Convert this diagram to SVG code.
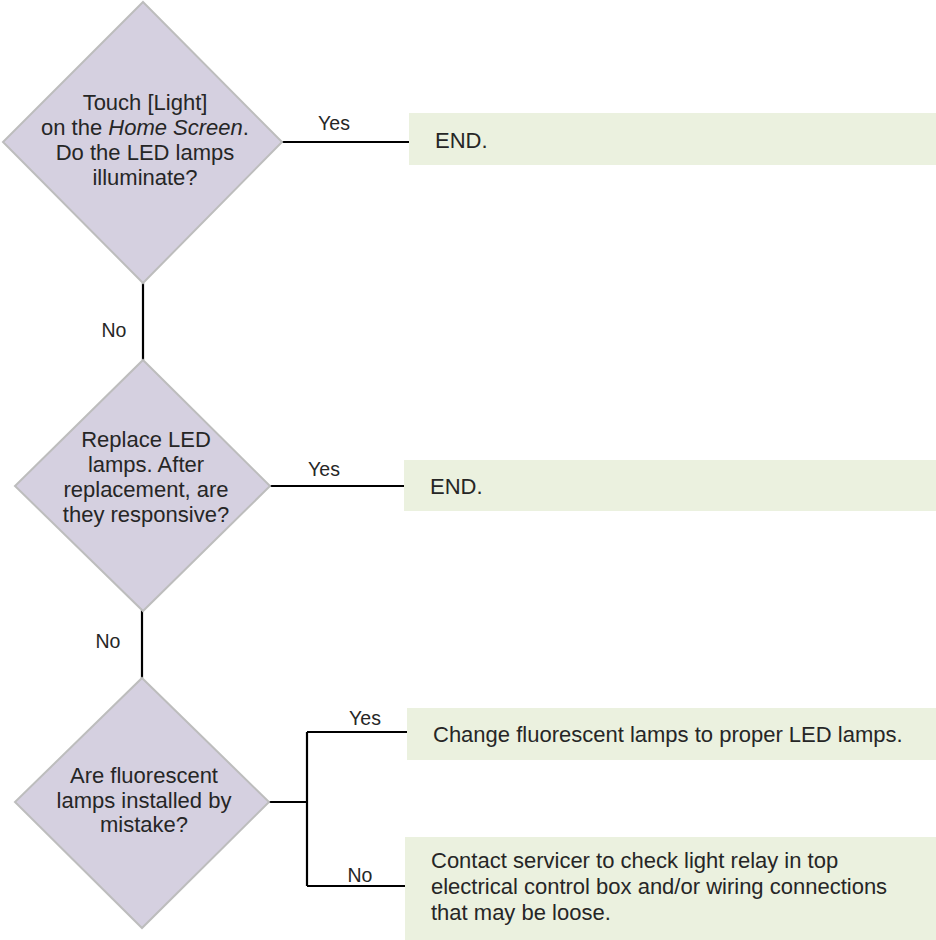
<svg xmlns="http://www.w3.org/2000/svg" width="936" height="940" viewBox="0 0 936 940">
<style>
.dia{fill:#d5d0e0;stroke:#bdbdbd;stroke-width:2}
.box{fill:#ebf1df}
.t{font-family:"Liberation Sans",Arial,sans-serif;font-size:22px;fill:#262626}
.lbl{font-family:"Liberation Sans",Arial,sans-serif;font-size:19.5px;fill:#262626;text-anchor:middle}
.c{text-anchor:middle}
.ln{fill:none;stroke:#000;stroke-width:2.2}
</style>
<rect width="936" height="940" fill="#fff"/>
<g id="connectors">
<path class="ln" d="M281 142H409"/>
<path class="ln" d="M143 283V360"/>
<path class="ln" d="M270 486H404"/>
<path class="ln" d="M142 610V678"/>
<path class="ln" d="M269 802H307M307 732V886M307 732H407M307 886H405"/>
<text class="lbl" x="334" y="130">Yes</text>
<text class="lbl" x="114" y="337">No</text>
<text class="lbl" x="324" y="476">Yes</text>
<text class="lbl" x="108" y="648">No</text>
<text class="lbl" x="365" y="725">Yes</text>
<text class="lbl" x="360" y="882">No</text>
</g>
<g id="d1">
<polygon class="dia" points="143,2 282,142 143,283 3,142"/>
<text class="t c" x="145" y="110">Touch [Light]</text>
<text class="t c" x="145" y="135">on the <tspan font-style="italic">Home Screen</tspan>.</text>
<text class="t c" x="145" y="160">Do the LED lamps</text>
<text class="t c" x="145" y="185">illuminate?</text>
</g>
<g id="b1">
<rect class="box" x="409" y="113" width="527" height="52"/>
<text class="t" x="435" y="148">END.</text>
</g>
<g id="d2">
<polygon class="dia" points="143,360 270,486 143,611 15,486"/>
<text class="t c" x="146" y="447">Replace LED</text>
<text class="t c" x="146" y="472">lamps. After</text>
<text class="t c" x="146" y="497">replacement, are</text>
<text class="t c" x="146" y="522">they responsive?</text>
</g>
<g id="b2">
<rect class="box" x="404" y="460" width="532" height="51"/>
<text class="t" x="430" y="494">END.</text>
</g>
<g id="d3">
<polygon class="dia" points="142,678 269,802 142,928 15,802"/>
<text class="t c" x="144" y="783">Are fluorescent</text>
<text class="t c" x="144" y="808">lamps installed by</text>
<text class="t c" x="144" y="832">mistake?</text>
</g>
<g id="b3">
<rect class="box" x="407" y="708" width="529" height="52"/>
<text class="t" x="433" y="742">Change fluorescent lamps to proper LED lamps.</text>
</g>
<g id="b4">
<rect class="box" x="405" y="837" width="531" height="103"/>
<text class="t" x="431" y="868">Contact servicer to check light relay in top</text>
<text class="t" x="431" y="894">electrical control box and/or wiring connections</text>
<text class="t" x="431" y="920">that may be loose.</text>
</g>
</svg>
